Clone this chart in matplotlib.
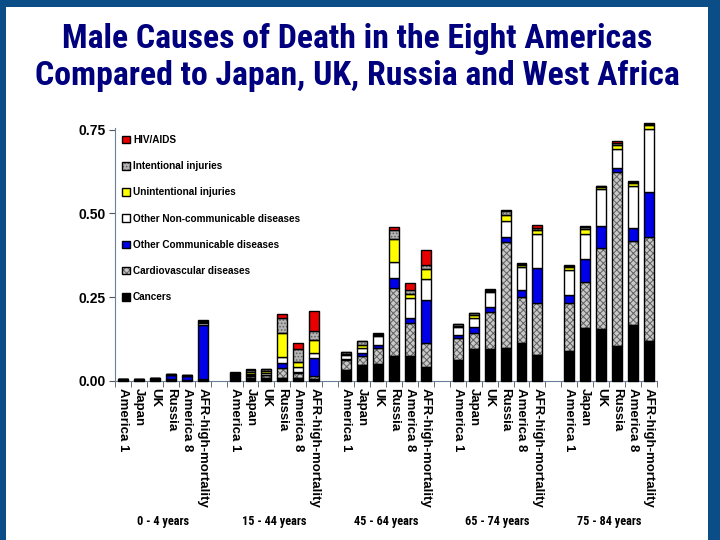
import matplotlib
matplotlib.use('Agg')
import matplotlib.pyplot as plt
import numpy as np
from matplotlib.patches import Rectangle

plt.rcParams['font.family'] = ['Liberation Sans', 'DejaVu Sans']
plt.rcParams['hatch.linewidth'] = 0.7

NARROW = ['Liberation Sans Narrow', 'Roboto Condensed', 'Liberation Sans', 'DejaVu Sans']

# order inside each age group
regions = ['America 1', 'Japan', 'UK', 'Russia', 'America 8', 'AFR-high-mortality']
age_groups = ['0 - 4 years', '15 - 44 years', '45 - 64 years', '65 - 74 years', '75 - 84 years']

# values per cause, 6 regions x 5 age groups (group by group)
cancers = [0.002, 0.002, 0.003, 0.003, 0.002, 0.004,
           0.008, 0.010, 0.010, 0.010, 0.010, 0.006,
           0.034, 0.049, 0.051, 0.074, 0.074, 0.042,
           0.062, 0.096, 0.096, 0.098, 0.114, 0.079,
           0.090, 0.157, 0.155, 0.103, 0.167, 0.120]
cardio = [0.001, 0.001, 0.001, 0.002, 0.001, 0.002,
          0.004, 0.005, 0.007, 0.030, 0.013, 0.008,
          0.028, 0.027, 0.048, 0.205, 0.098, 0.072,
          0.065, 0.048, 0.110, 0.318, 0.138, 0.153,
          0.142, 0.138, 0.243, 0.520, 0.250, 0.310]
other_comm = [0.002, 0.001, 0.003, 0.012, 0.011, 0.160,
              0.002, 0.002, 0.002, 0.015, 0.004, 0.055,
              0.005, 0.008, 0.008, 0.029, 0.015, 0.127,
              0.011, 0.018, 0.015, 0.013, 0.019, 0.104,
              0.025, 0.068, 0.064, 0.012, 0.040, 0.133]
other_ncd = [0.001, 0.001, 0.001, 0.002, 0.002, 0.006,
             0.003, 0.005, 0.006, 0.017, 0.015, 0.016,
             0.012, 0.015, 0.026, 0.046, 0.060, 0.063,
             0.024, 0.027, 0.046, 0.048, 0.068, 0.103,
             0.075, 0.077, 0.110, 0.058, 0.125, 0.189]
unintentional = [0.001, 0.001, 0.001, 0.002, 0.001, 0.005,
                 0.004, 0.006, 0.006, 0.070, 0.014, 0.037,
                 0.002, 0.007, 0.004, 0.070, 0.014, 0.030,
                 0.003, 0.008, 0.003, 0.018, 0.006, 0.012,
                 0.008, 0.015, 0.006, 0.010, 0.008, 0.012]
intentional = [0.000, 0.000, 0.000, 0.001, 0.001, 0.002,
               0.004, 0.006, 0.005, 0.045, 0.040, 0.027,
               0.005, 0.012, 0.004, 0.028, 0.012, 0.012,
               0.005, 0.005, 0.003, 0.012, 0.005, 0.006,
               0.004, 0.006, 0.004, 0.008, 0.004, 0.003]
hiv = [0.000, 0.000, 0.000, 0.000, 0.000, 0.004,
       0.001, 0.001, 0.000, 0.013, 0.018, 0.061,
       0.001, 0.002, 0.001, 0.008, 0.020, 0.046,
       0.001, 0.001, 0.001, 0.003, 0.002, 0.009,
       0.001, 0.001, 0.001, 0.004, 0.002, 0.002]

yticks = [0.00, 0.25, 0.50, 0.75]

# (label, values, facecolor, hatch, hatch colour) from bottom to top
series = [
    ('Cancers', cancers, '#000000', None, None),
    ('Cardiovascular diseases', cardio, '#c8c8c8', 'xxxxx', '#606060'),
    ('Other Communicable diseases', other_comm, '#0000e8', None, None),
    ('Other Non-communicable diseases', other_ncd, '#ffffff', None, None),
    ('Unintentional injuries', unintentional, '#ffff00', None, None),
    ('Intentional injuries', intentional, '#b4b4b4', '.....', '#606060'),
    ('HIV/AIDS', hiv, '#e80000', None, None),
]

n_reg = len(regions)
x = np.array([g * (n_reg + 1) + i for g in range(len(age_groups)) for i in range(n_reg)])

fig = plt.figure(figsize=(7.2, 5.4), dpi=100)
fig.patch.set_facecolor('#0b4d86')
fig.patches.append(Rectangle((6 / 720, 0), 702 / 720, 1 - 7 / 540, transform=fig.transFigure,
                             facecolor='white', edgecolor='none', zorder=-5))

fig.text(0.496, 0.928, 'Male Causes of Death in the Eight Americas',
         ha='center', va='center', fontsize=24.3, fontweight='bold', color='#00007f',
         family=NARROW)
fig.text(0.496, 0.859, 'Compared to Japan, UK, Russia and West Africa',
         ha='center', va='center', fontsize=24.3, fontweight='bold', color='#00007f',
         family=NARROW)

ax = fig.add_axes([115 / 720, 1 - 381 / 540, 542 / 720, 253 / 540])
ax.set_facecolor('none')

bottom = np.zeros(len(x))
handles = []
for label, vals, color, hatch, hcolor in series:
    vals = np.array(vals)
    if hatch:
        # hatch takes the edge colour, so draw the fill first and the black outline on top
        ax.bar(x, vals, width=0.62, bottom=bottom, color=color, edgecolor=hcolor,
               linewidth=0, hatch=hatch, clip_on=False, zorder=3)
        ax.bar(x, vals, width=0.62, bottom=bottom, fill=False, edgecolor='black',
               linewidth=1.0, clip_on=False, zorder=4)
        h = Rectangle((0, 0), 1, 1, facecolor=color, edgecolor=hcolor, hatch=hatch, linewidth=0)
        h = (h, Rectangle((0, 0), 1, 1, fill=False, edgecolor='black', linewidth=1.0))
    else:
        ax.bar(x, vals, width=0.62, bottom=bottom, color=color, edgecolor='black',
               linewidth=1.0, clip_on=False, zorder=4)
        h = Rectangle((0, 0), 1, 1, facecolor=color, edgecolor='black', linewidth=1.0)
    bottom += vals
    handles.append(h)

ax.set_xlim(-0.5, len(age_groups) * (n_reg + 1) - 1.5)
ax.set_ylim(0, 0.755)
ax.set_yticks(yticks)
ax.set_yticklabels(['%.2f' % v for v in yticks], fontsize=10, fontweight='bold')

ax.set_xticks(x)
ax.set_xticklabels(regions * len(age_groups), rotation=270, fontsize=9.5, fontweight='bold')
ax.tick_params(axis='x', length=0, pad=5)
ax.set_xticks(np.arange(-0.5, len(age_groups) * (n_reg + 1) - 1, 1), minor=True)
ax.tick_params(axis='x', which='minor', length=4, color='#555555')
ax.tick_params(axis='y', length=4, color='#555555', pad=3)

for s in ['top', 'right']:
    ax.spines[s].set_visible(False)
ax.spines['left'].set_color('#6a7f99')
ax.spines['bottom'].set_color('#6a7f99')

for g, name in enumerate(age_groups):
    cx = g * (n_reg + 1) + (n_reg - 1) / 2
    ax.text(cx, -0.418, name, ha='center', va='center', fontsize=8.8, fontweight='bold',
            clip_on=False, family=NARROW)

leg = ax.legend(handles[::-1], [s[0] for s in series][::-1], loc='upper left',
                bbox_to_anchor=(0.0, 1.0), frameon=False, fontsize=7.2,
                handlelength=0.8, handleheight=0.8, handletextpad=0.3,
                labelspacing=1.62, borderaxespad=0.3)
for t in leg.get_texts():
    t.set_fontweight('bold')

fig.savefig('out.png', dpi=100, facecolor=fig.get_facecolor())
